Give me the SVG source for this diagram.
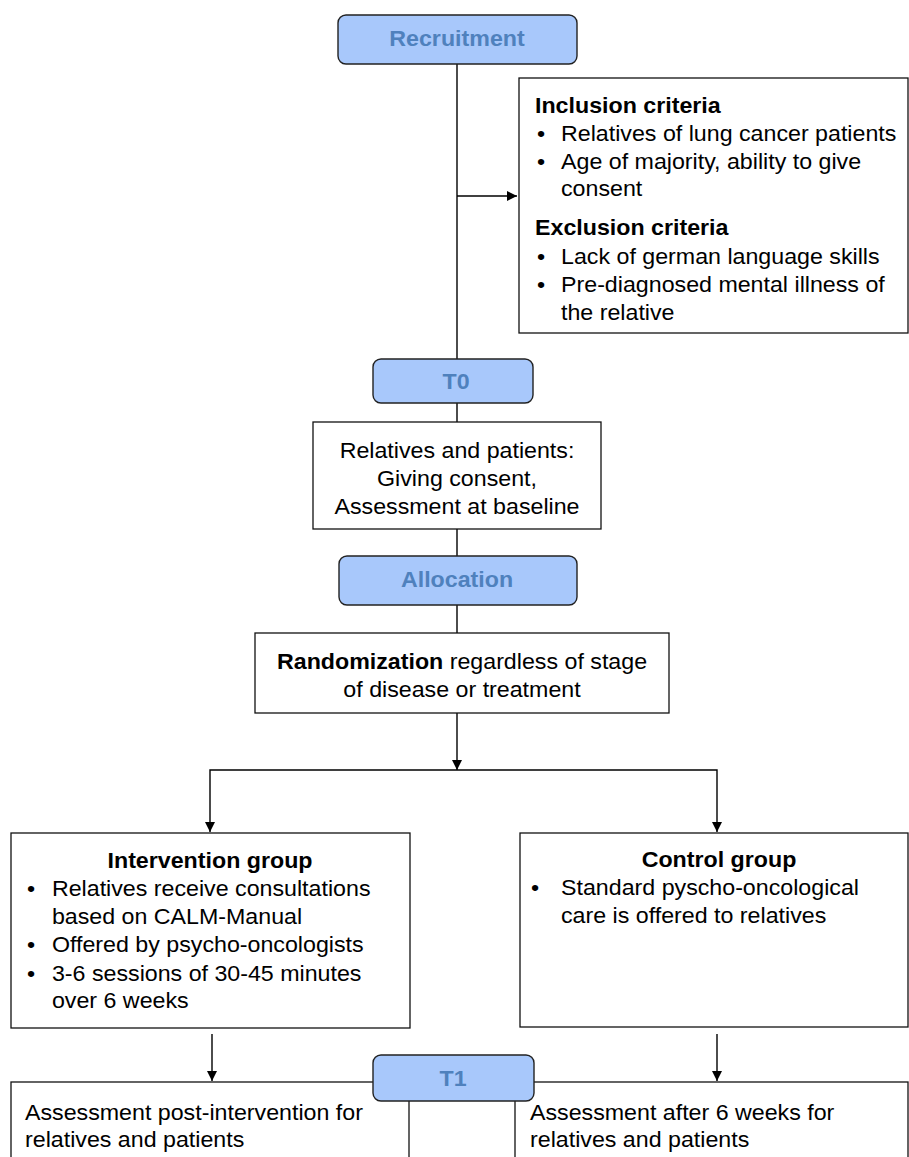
<svg xmlns="http://www.w3.org/2000/svg" width="909" height="1157" viewBox="0 0 909 1157">
<defs>
<style>
.t{font-family:"Liberation Sans",Arial,Helvetica,sans-serif;font-size:21.5px;fill:#000}
.b{font-weight:bold}
.lbl{font-family:"Liberation Sans",Arial,Helvetica,sans-serif;font-size:21.5px;font-weight:bold;fill:#4f81bd;text-anchor:middle}
.m{text-anchor:middle}
.rb{fill:#a8c8fb;stroke:#222;stroke-width:1.4}
.bx{fill:#fff;stroke:#111;stroke-width:1.3}
.c{fill:none;stroke:#000;stroke-width:1.4}
</style>
<marker id="ar" viewBox="0 0 10 10" refX="10" refY="5" markerWidth="10" markerHeight="10" markerUnits="userSpaceOnUse" orient="auto">
<path d="M0,0 L10,5 L0,10 z" fill="#000"/>
</marker>
</defs>
<rect width="909" height="1157" fill="#fff"/>

<g id="connectors">
<path class="c" d="M457,64 V359"/>
<path class="c" d="M457,196 H517" marker-end="url(#ar)"/>
<path class="c" d="M457,403 V422"/>
<path class="c" d="M457,529 V556"/>
<path class="c" d="M457,605 V633"/>
<path class="c" d="M457,713 V770" marker-end="url(#ar)"/>
<path class="c" d="M457,770 H210 V832" marker-end="url(#ar)"/>
<path class="c" d="M457,770 H717 V832" marker-end="url(#ar)"/>
<path class="c" d="M212,1034 V1081" marker-end="url(#ar)"/>
<path class="c" d="M717,1034 V1081" marker-end="url(#ar)"/>
</g>

<g id="recruitment">
<rect class="rb" x="338" y="15" width="239" height="49" rx="8"/>
<text class="lbl" transform="translate(457,46) scale(1.08,1)" x="0" y="0">Recruitment</text>
</g>

<g id="criteria">
<rect class="bx" x="519" y="78" width="389" height="255"/>
<g transform="translate(535,0) scale(1.08,1)">
<text class="t b" x="0" y="113">Inclusion criteria</text>
<text class="t" x="1.9" y="141">•</text><text class="t" x="24.1" y="141">Relatives of lung cancer patients</text>
<text class="t" x="1.9" y="169">•</text><text class="t" x="24.1" y="169">Age of majority, ability to give</text>
<text class="t" x="24.1" y="196">consent</text>
<text class="t b" x="0" y="235">Exclusion criteria</text>
<text class="t" x="1.9" y="264">•</text><text class="t" x="24.1" y="264">Lack of german language skills</text>
<text class="t" x="1.9" y="292">•</text><text class="t" x="24.1" y="292">Pre-diagnosed mental illness of</text>
<text class="t" x="24.1" y="320">the relative</text>
</g>
</g>

<g id="t0">
<rect class="rb" x="373" y="359" width="160" height="44" rx="8"/>
<text class="lbl" transform="translate(456,389) scale(1.08,1)" x="0" y="0">T0</text>
</g>

<g id="consent">
<rect class="bx" x="313" y="422" width="288" height="107"/>
<g transform="translate(457,0) scale(1.08,1)">
<text class="t m" x="0" y="458">Relatives and patients:</text>
<text class="t m" x="0" y="486">Giving consent,</text>
<text class="t m" x="0" y="514">Assessment at baseline</text>
</g>
</g>

<g id="allocation">
<rect class="rb" x="339" y="556" width="238" height="49" rx="8"/>
<text class="lbl" transform="translate(457,587) scale(1.08,1)" x="0" y="0">Allocation</text>
</g>

<g id="randomization">
<rect class="bx" x="255" y="633" width="414" height="80"/>
<g transform="translate(462,0) scale(1.08,1)">
<text class="t m" x="0" y="669"><tspan class="b">Randomization</tspan> regardless of stage</text>
<text class="t m" x="0" y="697">of disease or treatment</text>
</g>
</g>

<g id="intervention">
<rect class="bx" x="11" y="833" width="399" height="195"/>
<text class="t b m" transform="translate(210,0) scale(1.08,1)" x="0" y="868">Intervention group</text>
<g transform="translate(27,0) scale(1.08,1)">
<text class="t" x="0" y="896">•</text><text class="t" x="23.1" y="896">Relatives receive consultations</text>
<text class="t" x="23.1" y="924">based on CALM-Manual</text>
<text class="t" x="0" y="952">•</text><text class="t" x="23.1" y="952">Offered by psycho-oncologists</text>
<text class="t" x="0" y="981">•</text><text class="t" x="23.1" y="981">3-6 sessions of 30-45 minutes</text>
<text class="t" x="23.1" y="1008">over 6 weeks</text>
</g>
</g>

<g id="control">
<rect class="bx" x="520" y="833" width="388" height="194"/>
<text class="t b m" transform="translate(719,0) scale(1.08,1)" x="0" y="867">Control group</text>
<g transform="translate(531,0) scale(1.08,1)">
<text class="t" x="0" y="895">•</text><text class="t" x="27.8" y="895">Standard pyscho-oncological</text>
<text class="t" x="27.8" y="923">care is offered to relatives</text>
</g>
</g>

<g id="post-left">
<rect class="bx" x="11" y="1082" width="398" height="100"/>
<g transform="translate(25,0) scale(1.08,1)">
<text class="t" x="0" y="1120">Assessment post-intervention for</text>
<text class="t" x="0" y="1147">relatives and patients</text>
</g>
</g>

<g id="post-right">
<rect class="bx" x="515" y="1082" width="393" height="100"/>
<g transform="translate(530,0) scale(1.08,1)">
<text class="t" x="0" y="1120">Assessment after 6 weeks for</text>
<text class="t" x="0" y="1147">relatives and patients</text>
</g>
</g>

<g id="t1">
<rect class="rb" x="373" y="1055" width="161" height="46" rx="8"/>
<text class="lbl" transform="translate(453,1086) scale(1.08,1)" x="0" y="0">T1</text>
</g>
</svg>
